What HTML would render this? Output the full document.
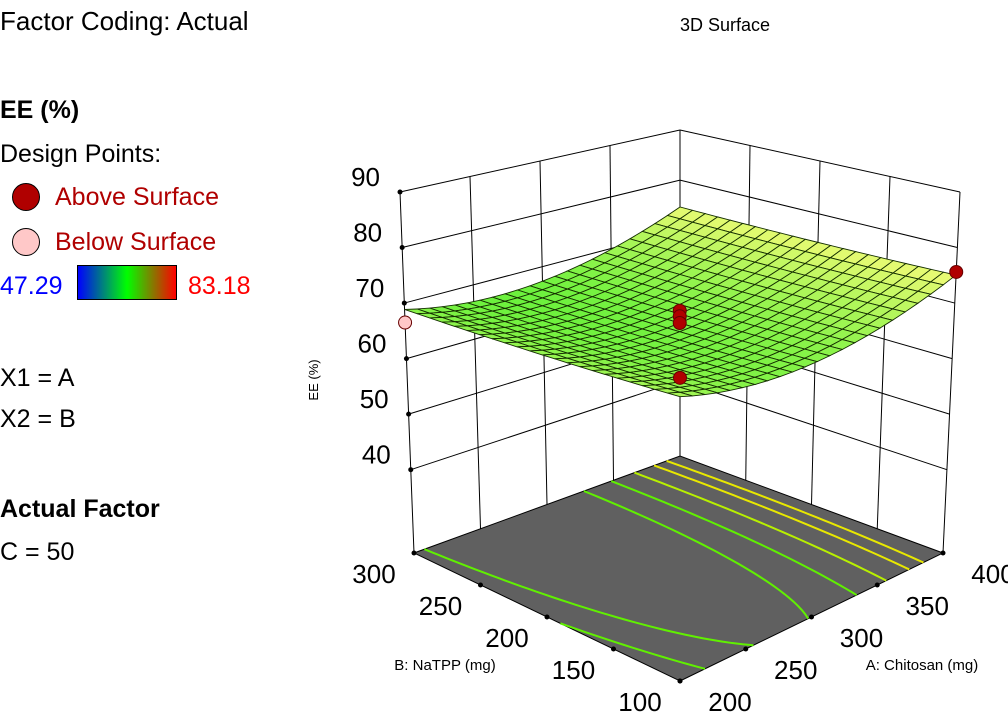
<!DOCTYPE html>
<html><head><meta charset="utf-8">
<style>
body{margin:0;background:#fff;width:1008px;height:722px;overflow:hidden;font-family:"Liberation Sans","DejaVu Sans",sans-serif;}
.t{position:absolute;white-space:nowrap;font-size:25px;color:#000;line-height:1;}
</style></head><body>
<div class="t" style="left:0;top:8px;font-size:26px">Factor Coding: Actual</div>
<div class="t" style="left:0;top:98px;font-weight:bold">EE (%)</div>
<div class="t" style="left:0;top:142px">Design Points:</div>
<div style="position:absolute;left:12px;top:183px;width:28px;height:28px;border-radius:50%;background:#b00000;border:1px solid #000;box-sizing:border-box"></div>
<div class="t" style="left:55px;top:185px;color:#b00000">Above Surface</div>
<div style="position:absolute;left:12px;top:228px;width:28px;height:28px;border-radius:50%;background:#ffc8c8;border:1px solid #000;box-sizing:border-box"></div>
<div class="t" style="left:55px;top:230px;color:#b00000">Below Surface</div>
<div class="t" style="left:0;top:274px;color:#0000ff">47.29</div>
<div style="position:absolute;left:77px;top:265px;width:100px;height:35px;border:1px solid #000;box-sizing:border-box;background:linear-gradient(to right,#0000ff,#00ff00,#ff0000)"></div>
<div class="t" style="left:188px;top:274px;color:#ff0000">83.18</div>
<div class="t" style="left:0;top:366px">X1 = A</div>
<div class="t" style="left:0;top:407px">X2 = B</div>
<div class="t" style="left:0;top:497px;font-weight:bold">Actual Factor</div>
<div class="t" style="left:0;top:540px">C = 50</div>

<svg id="chart" width="1008" height="722" style="position:absolute;left:0;top:0" font-family="Liberation Sans, DejaVu Sans, sans-serif">
<text x="725" y="31" font-size="18" text-anchor="middle">3D Surface</text>
<text x="0" y="0" font-size="13" text-anchor="middle" transform="translate(318,380) rotate(-90)">EE (%)</text>
<text x="445" y="670" font-size="15" text-anchor="middle">B: NaTPP (mg)</text>
<text x="922" y="670" font-size="15" text-anchor="middle">A: Chitosan (mg)</text>
</svg>
<script>
const zTicks=[40,50,60,70,80,90];
const aTicks=[200,250,300,350,400];
const bTicks=[100,150,200,250,300];
const coef=[67.6,2.5,-0.6,0.4,4.5,0.25]; // c, A, B, AB, A2, B2 (coded)
const contourLevels=[68.4,69.7,71.1,72.5,73.5];
const ptA=[200,400,300,300,300,200];
const ptB=[300,100,200,200,200,100];
const ptZ=[66.5,75.6,69.8,68.8,67.6,73.9];
const ptAbove=[false,true,true,true,true,true];

const svg=document.getElementById('chart');
const NS='http://www.w3.org/2000/svg';
const ZF=25,ZT=90;
const fl={f:[680,681],r:[943,553],l:[414,553],b:[680,456]};
const tp={f:[680,278],r:[960,192],l:[400,192],b:[680,130]};
function bil(c,u,v,i){return c.f[i]*(1-u)*(1-v)+c.r[i]*u*(1-v)+c.l[i]*(1-u)*v+c.b[i]*u*v;}
function P(a,b,z){const u=(a-200)/200,v=(b-100)/200,t=(z-ZF)/(ZT-ZF);
 return [bil(fl,u,v,0)*(1-t)+bil(tp,u,v,0)*t, bil(fl,u,v,1)*(1-t)+bil(tp,u,v,1)*t];}
function model(a,b){const x=(a-300)/100,y=(b-200)/100;
 return coef[0]+coef[1]*x+coef[2]*y+coef[3]*x*y+coef[4]*x*x+coef[5]*y*y;}
function el(tag,attrs,parent){const e=document.createElementNS(NS,tag);for(const k in attrs)e.setAttribute(k,attrs[k]);(parent||svg).appendChild(e);return e;}
function line(p,q,w,c,name){const e=el('line',{x1:p[0],y1:p[1],x2:q[0],y2:q[1],stroke:c||'#000','stroke-width':w||1});
 
 return e;}

zTicks.forEach(z=>{
 line(P(200,300,z),P(400,300,z),1,'#000','wall-gridline-z');
 line(P(400,300,z),P(400,100,z),1,'#000','wall-gridline-z');
});
aTicks.forEach(a=>line(P(a,300,ZF),P(a,300,ZT),1,'#000','wall-gridline-a'));
bTicks.forEach(b=>line(P(400,b,ZF),P(400,b,ZT),1,'#000','wall-gridline-b'));
zTicks.forEach(z=>{const p=P(200,300,z);const d=el('circle',{cx:p[0],cy:p[1],r:2.5,fill:'#000'});
 
 
 const t=el('text',{x:p[0]-20,y:p[1]-6,'font-size':26,'text-anchor':'end'});t.textContent=z;
 
 });

const fpts=[P(200,100,ZF),P(400,100,ZF),P(400,300,ZF),P(200,300,ZF)];
const floor=el('polygon',{points:fpts.map(p=>p.join(',')).join(' '),fill:'#606060',stroke:'#000','stroke-width':1});


contourLevels.forEach((L,li)=>{
 const roots=[[],[]];
 for(let k=0;k<=40;k++){const b=100+200*k/40,y=(b-200)/100;
  const qa=coef[4],qb=coef[1]+coef[3]*y,qc=coef[0]+coef[2]*y+coef[5]*y*y-L;
  const D=qb*qb-4*qa*qc;if(D<0)continue;
  [(-qb-Math.sqrt(D))/(2*qa),(-qb+Math.sqrt(D))/(2*qa)].forEach((x,i)=>{if(x>=-1&&x<=1)roots[i].push(P(300+100*x,b,ZF));});}
 roots.forEach(r=>{if(r.length<2)return;
  const pl=el('polyline',{points:r.map(p=>p.join(',')).join(' '),fill:'none',stroke:L>=72.5?'#e8e800':(L>=71?'#b8f000':'#60f000'),'stroke-width':2});
  
  });
});
aTicks.forEach(a=>{const p=P(a,100,ZF);const d=el('circle',{cx:p[0],cy:p[1],r:2.5,fill:'#000'});
 
 
 const t=el('text',{x:p[0]+50,y:p[1]+30,'font-size':26,'text-anchor':'middle'});t.textContent=a;
 
 });
bTicks.forEach(b=>{const p=P(200,b,ZF);const d=el('circle',{cx:p[0],cy:p[1],r:2.5,fill:'#000'});
 
 
 const t=el('text',{x:p[0]-40,y:p[1]+30,'font-size':26,'text-anchor':'middle'});t.textContent=b;
 
 });

const N=22,cells=[];
for(let i=0;i<N;i++)for(let j=0;j<N;j++)cells.push([i,j]);
cells.sort((p,q)=>(q[0]+q[1])-(p[0]+p[1]));
function col(z){let t=Math.max(0,Math.min(1,(z-66)/10));
 return 'rgb('+Math.round(95+160*t)+','+Math.round(240+12*t)+','+Math.round(55+70*t)+')';}
const sg=el('g',{});


cells.forEach(([i,j])=>{
 const a0=200+200*i/N,a1=200+200*(i+1)/N,b0=100+200*j/N,b1=100+200*(j+1)/N;
 const q=[[a0,b0],[a1,b0],[a1,b1],[a0,b1]].map(([a,b])=>P(a,b,model(a,b)));
 const zm=model((a0+a1)/2,(b0+b1)/2);
 const pg=el('polygon',{points:q.map(p=>p.join(',')).join(' '),fill:col(zm),stroke:'#142e00','stroke-width':0.9},sg);
 
 
});
ptA.forEach((a,k)=>{const p=P(a,ptB[k],ptZ[k]);
 const c=el('circle',{cx:p[0],cy:p[1],r:6.5,fill:ptAbove[k]?'#b00000':'#ffc8c8',stroke:'#600','stroke-width':1});
 
 });
</script>
</body></html>
